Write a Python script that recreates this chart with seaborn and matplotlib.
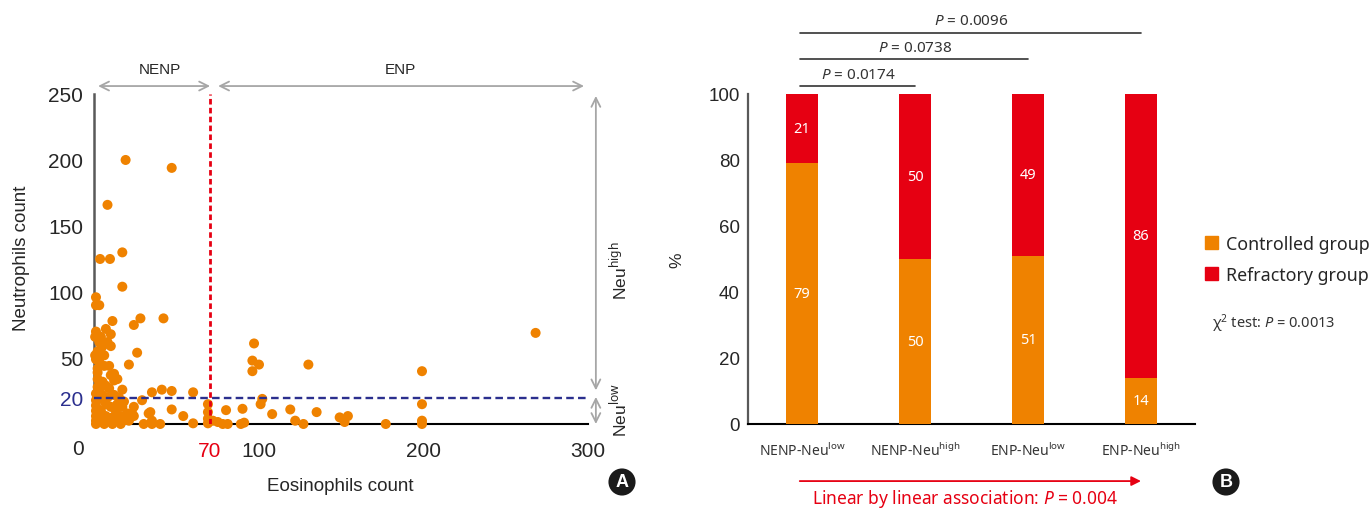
import matplotlib
matplotlib.use("Agg")
import matplotlib.pyplot as plt
import numpy as np
import pandas as pd
import seaborn as sns
from matplotlib.patches import Patch

# ---- data -----------------------------------------------------------------
# panel A: eosinophil vs neutrophil counts
eos = [19, 47, 8, 3.5, 9.5, 17, 17, 1, 1, 3, 11, 28, 42, 24, 7, 10, 1, 0.5,
       26, 21, 97, 96, 100, 96, 0.5, 130, 268, 199,
       17, 35, 41, 47, 60,
       3, 5, 8, 10, 2, 4, 1, 3, 6, 9, 12, 10, 2, 2, 5, 7, 12, 14,
       1, 1, 1, 1, 1, 1, 4, 7, 10, 14, 17, 4, 7, 11, 16, 20, 24, 29,
       33, 47, 24, 21, 23, 35, 54, 34,
       2, 3, 5, 8, 12, 15, 9, 13, 18, 6, 9, 14, 19, 3, 2, 6, 4,
       1, 6, 11, 16, 30, 35, 40, 60,
       69, 69, 69, 69, 72, 75, 78, 81, 80, 90, 91, 89, 101, 102, 108,
       119, 122, 127, 135, 149, 154, 152, 177, 199, 199, 199]
neu = [200, 194, 166, 125, 125, 130, 104, 96, 90, 90, 78, 80, 80, 75, 72, 68, 70, 66,
       54, 45, 61, 48, 45, 40, 52, 45, 69, 40,
       26, 24, 26, 25, 24,
       62, 59, 62, 59, 55, 57, 49, 47, 44, 44, 38, 37, 39, 34, 32, 29, 33, 34,
       23, 18, 14, 10, 6, 2.5, 19, 15, 13, 15, 13, 10, 6, 5, 6, 8, 13, 18,
       8, 11, 6, 2.5, 8, 2.5, 6, 9,
       28, 25, 22, 20, 22, 20, 27, 10, 17, 3, 2, 3, 3, 5, 42, 52, 66,
       0, 0, 0, 0, 0, 0, 0, 0.5,
       15, 9, 4, 0.5, 2.5, 1.5, 0, 0, 10.5, 11.5, 1, 0, 15, 19, 7.5,
       11, 2.5, 0, 9, 5, 6, 1.5, 0, 15, 2.5, 0]
EOS_CUT = 70
NEU_CUT = 20

# panel B: stacked percentages
groups = ["NENP-Neu$^{\\mathrm{low}}$", "NENP-Neu$^{\\mathrm{high}}$",
          "ENP-Neu$^{\\mathrm{low}}$", "ENP-Neu$^{\\mathrm{high}}$"]
controlled = [79, 50, 51, 14]
refractory = [21, 50, 49, 86]
pairs = [(0, 1), (0, 2), (0, 3)]
pair_p = ["0.0174", "0.0738", "0.0096"]

ORANGE = "#EF8200"
RED = "#E60012"
NAVY = "#2B2F8E"
GRAY = "#A6A6A6"

sns.set_style("white")
plt.rcParams["font.family"] = ["Liberation Sans", "DejaVu Sans"]
plt.rcParams["mathtext.fontset"] = "custom"
plt.rcParams["mathtext.rm"] = "Noto Sans"
plt.rcParams["mathtext.it"] = "Noto Sans:italic"
NOTO = ["Noto Sans", "DejaVu Sans"]

fig = plt.figure(figsize=(13.71, 5.10), dpi=100)
ax1 = fig.add_axes([0.0688, 0.1667, 0.3603, 0.6471])
ax2 = fig.add_axes([0.5456, 0.1667, 0.3260, 0.6471])

# ---- panel A --------------------------------------------------------------
df = pd.DataFrame({"eos": eos, "neu": neu})
sns.scatterplot(data=df, x="eos", y="neu", color=ORANGE, s=52, edgecolor="none",
                ax=ax1, clip_on=False, zorder=3)
ax1.set_xlim(0, 300)
ax1.set_ylim(0, 250)
ax1.axvline(EOS_CUT, color=RED, lw=2, ls=(0, (2, 1.2)), zorder=4)
ax1.axhline(NEU_CUT, color=NAVY, lw=1.7, ls=(0, (3.2, 1.8)), zorder=4)

ax1.set_xticks([EOS_CUT, 100, 200, 300], ["70", "100", "200", "300"])
ax1.set_yticks([NEU_CUT, 50, 100, 150, 200, 250], ["20", "50", "100", "150", "200", "250"])
ax1.get_xticklabels()[0].set_color(RED)
ax1.get_yticklabels()[0].set_color(NAVY)
ax1.tick_params(axis="x", direction="in", length=7, width=1.3, pad=12, labelsize=15)
ax1.tick_params(axis="y", direction="in", length=7, width=1.3, pad=8, labelsize=15)
ax1.annotate("0", xy=(0, 0), xytext=(-16, -25), textcoords="offset pixels",
             ha="center", va="center", fontsize=15, annotation_clip=False)
for s in ["top", "right"]:
    ax1.spines[s].set_visible(False)
ax1.spines["left"].set_color("#595959")
ax1.spines["left"].set_linewidth(1.8)
ax1.spines["bottom"].set_color("black")
ax1.spines["bottom"].set_linewidth(1.5)
ax1.set_xlabel("Eosinophils count", fontsize=13.5)
ax1.set_ylabel("Neutrophils count", fontsize=13.5)
ax1.xaxis.set_label_coords(0.497, -0.162)
ax1.yaxis.set_label_coords(-0.130, 0.506)

arr = dict(arrowstyle="<->", color=GRAY, lw=1.3, mutation_scale=16, shrinkA=0, shrinkB=0)
ax1.annotate("", xy=(2.3, 256), xytext=(70.3, 256), arrowprops=arr, annotation_clip=False)
ax1.annotate("", xy=(75.2, 256), xytext=(297.4, 256), arrowprops=arr, annotation_clip=False)
ax1.text(40, 269, "NENP", ha="center", va="center", fontsize=11, clip_on=False)
ax1.text(186, 269, "ENP", ha="center", va="center", fontsize=11, clip_on=False)
ax1.annotate("", xy=(304.6, 248.5), xytext=(304.6, 25.5), arrowprops=arr, annotation_clip=False)
ax1.annotate("", xy=(304.6, 20.5), xytext=(304.6, 0), arrowprops=arr, annotation_clip=False)
ax1.text(318.5, 117, "Neu$^{\\mathrm{high}}$", rotation=90, ha="center", va="center",
         fontsize=12.5, clip_on=False)
ax1.text(318.5, 11, "Neu$^{\\mathrm{low}}$", rotation=90, ha="center", va="center",
         fontsize=12.5, clip_on=False)

# ---- panel B --------------------------------------------------------------
totals = [c + r for c, r in zip(controlled, refractory)]
bdf = pd.DataFrame({"group": groups, "total": totals, "controlled": controlled})
sns.barplot(data=bdf, x="group", y="total", color=RED, width=0.283, saturation=1,
            linewidth=0, ax=ax2, zorder=2)
sns.barplot(data=bdf, x="group", y="controlled", color=ORANGE, width=0.283, saturation=1,
            linewidth=0, ax=ax2, zorder=3)
ax2.set_xlim(-0.478, 3.478)
ax2.set_ylim(0, 100)
for i, (c, r) in enumerate(zip(controlled, refractory)):
    ax2.text(i, c / 2, str(c), ha="center", va="center", color="white",
             fontsize=10.5, family=NOTO, zorder=5)
    ax2.text(i, c + r / 2, str(r), ha="center", va="center", color="white",
             fontsize=10.5, family=NOTO, zorder=5)

ax2.set_xticks(range(len(groups)), groups)
for lab in ax2.get_xticklabels():
    lab.set_family(NOTO)
    lab.set_color("#333333")
ax2.tick_params(axis="x", length=0, pad=13, labelsize=10)
ax2.set_yticks([0, 20, 40, 60, 80, 100])
ax2.tick_params(axis="y", direction="in", length=7, width=1.3, pad=6, labelsize=13.5)
for s in ["top", "right"]:
    ax2.spines[s].set_visible(False)
ax2.spines["left"].set_color("#595959")
ax2.spines["left"].set_linewidth(1.6)
ax2.spines["bottom"].set_color("black")
ax2.spines["bottom"].set_linewidth(1.5)
ax2.set_xlabel("")
ax2.set_ylabel("%", fontsize=12.5)
ax2.yaxis.set_label_coords(-0.143, 0.5)

for k, ((a, b), p) in enumerate(zip(pairs, pair_p)):
    ly = 102.4 + 8.05 * k
    ax2.plot([a - 0.02, b], [ly, ly], color="#333333", lw=1.2, clip_on=False)
    ax2.annotate(f"$P$ = {p}", xy=((a + b) / 2, ly), xytext=(0, 12),
                 textcoords="offset pixels", ha="center", va="center",
                 fontsize=11, family=NOTO, color="#333333", annotation_clip=False)

ax2.annotate("", xy=(3.0, -17.3), xytext=(-0.02, -17.3),
             arrowprops=dict(arrowstyle="-|>", color=RED, lw=1.3, mutation_scale=14,
                             shrinkA=0, shrinkB=0), annotation_clip=False)
ax2.text(1.44, -22.3, "Linear by linear association: $P$ = 0.004", ha="center",
         va="center", color=RED, fontsize=12.5, family=NOTO, clip_on=False)

handles = [Patch(color=ORANGE, label="Controlled group"),
           Patch(color=RED, label="Refractory group")]
fig.legend(handles=handles, loc="upper left", bbox_to_anchor=(0.879, 0.537),
           frameon=False, handlelength=0.75, handleheight=0.75, handletextpad=0.45,
           labelspacing=0.72, borderaxespad=0, borderpad=0,
           prop={"family": NOTO, "size": 12.8})
fig.text(1212 / 1371, 1 - 324 / 510, "χ$^{2}$ test: $P$ = 0.0013", ha="left",
         va="center", fontsize=10.5, family=NOTO, color="#333333")

for x, letter in [(622, "A"), (1226, "B")]:
    fig.text(x / 1371, 1 - 483 / 510, letter, ha="center", va="center", color="white",
             fontsize=13, weight="bold",
             bbox=dict(boxstyle="circle,pad=0.28", fc="#1a1a1a", ec="none"))

fig.savefig("out.png", dpi=100)
